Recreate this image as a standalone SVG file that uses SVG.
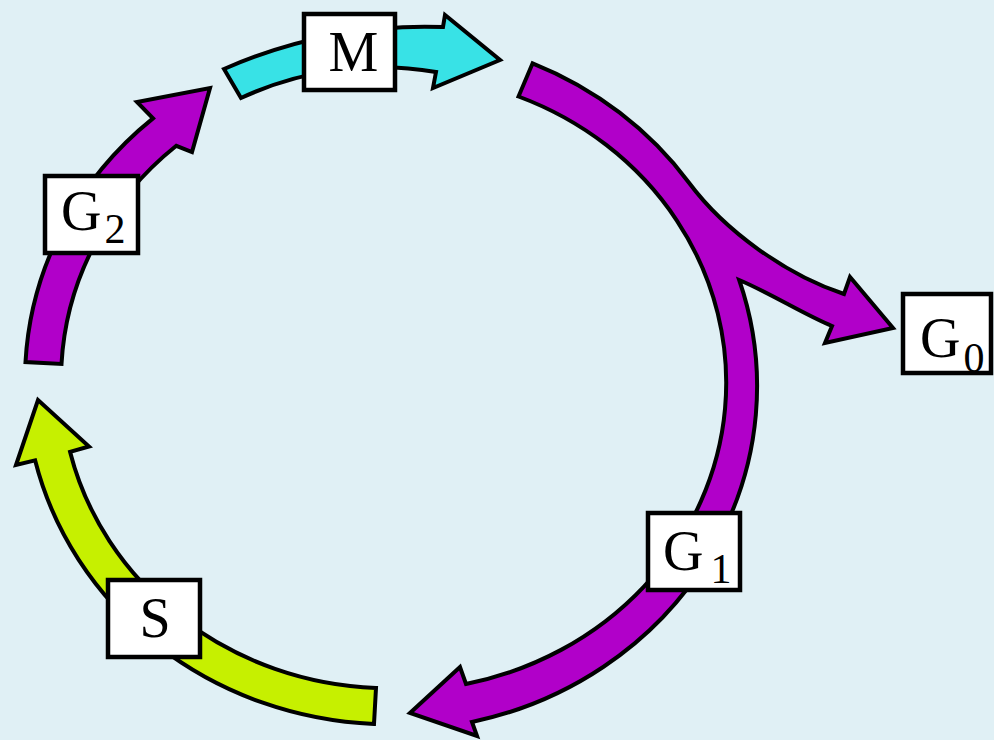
<svg xmlns="http://www.w3.org/2000/svg" width="994" height="740" viewBox="0 0 994 740">
<style>
.arrow{stroke:#000;stroke-width:4;stroke-linejoin:miter;stroke-miterlimit:10}
.purple{fill:#b100c9}
.cyan{fill:#38e2e6}
.lime{fill:#c6f000}
.box{fill:#fff;stroke:#000;stroke-width:4.5}
.lbl{font-family:"Liberation Serif","Times New Roman",serif;font-size:56px;fill:#000}
.sub{font-size:42px}
</style>
<rect x="0" y="0" width="994" height="740" fill="#e0f0f5"/>
<g id="connectors">
<path id="arrow-G1-G0" class="arrow purple" d="M 532.6 63.3 A 365 344 0 0 1 689 182.7 C 725 231 787 275.5 844 294 L 850 277 L 893 328 L 825 343 L 832 326 C 805 315 770 293 739.2 280 A 365 344 0 0 1 472 722 L 477 736 L 410 713 L 460 667 L 466 684 A 329 308 0 0 0 518.5 96.5 Z"/>
<path id="arrow-S" class="arrow lime" d="M 374 724 A 365 344 0 0 1 35.1 460.3 L 16 465 L 38 400 L 89 446.5 L 70.1 451.9 A 329 308 0 0 0 376 688 Z"/>
<path id="arrow-G2" class="arrow purple" d="M 25.5 362 A 365 344 0 0 1 153 118.4 L 137 102 L 210 88 L 192 152 L 176.3 145.8 A 329 308 0 0 0 61.5 364 Z"/>
<path id="arrow-M" class="arrow cyan" d="M 224 69 A 500 500 0 0 1 443 27 L 445 15 L 500 60 L 433 88 L 436 72 A 330 330 0 0 0 241 98 Z"/>
</g>
<g id="node-M">
<rect class="box" x="304" y="14" width="91" height="76"/>
<text class="lbl" x="353.5" y="71" text-anchor="middle" font-size="57">M</text>
</g>
<g id="node-G2">
<rect class="box" x="45" y="176" width="93" height="77"/>
<text class="lbl" x="61" y="230">G<tspan class="sub" dx="3" dy="13">2</tspan></text>
</g>
<g id="node-G0">
<rect class="box" x="903" y="294" width="88" height="79"/>
<text class="lbl" x="920" y="357">G<tspan class="sub" dx="3" dy="15">0</tspan></text>
</g>
<g id="node-G1">
<rect class="box" x="648" y="513" width="92" height="77"/>
<text class="lbl" x="663" y="570">G<tspan class="sub" dx="7" dy="13">1</tspan></text>
</g>
<g id="node-S">
<rect class="box" x="108" y="580" width="92" height="77"/>
<text class="lbl" x="155" y="637" text-anchor="middle">S</text>
</g>
</svg>
